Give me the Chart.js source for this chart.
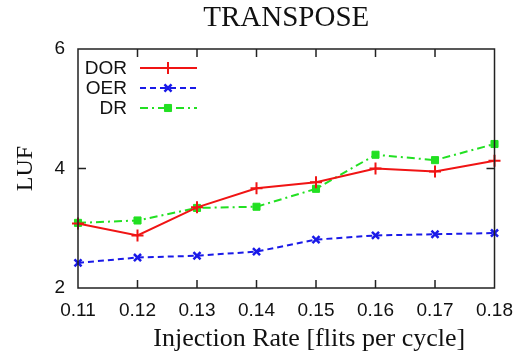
<!DOCTYPE html>
<html>
<head>
<meta charset="utf-8">
<script src="https://cdn.jsdelivr.net/npm/chart.js@4.4.0/dist/chart.umd.min.js"></script>
<style>
  html, body { margin: 0; padding: 0; background: #fff; }
</style>
</head>
<body>
<canvas id="chart" width="524" height="355"></canvas>
<script>
"use strict";

const rates = ['0.11', '0.12', '0.13', '0.14', '0.15', '0.16', '0.17', '0.18'];
const dorValues = [3.08, 2.88, 3.35, 3.67, 3.77, 4.00, 3.95, 4.13];
const oerValues = [2.42, 2.51, 2.54, 2.61, 2.81, 2.88, 2.90, 2.92];
const drValues = [3.09, 3.13, 3.34, 3.36, 3.66, 4.23, 4.14, 4.41];
const yTicks = [2, 4, 6];

const sans = "'Liberation Sans', Arial, sans-serif";
const serif = "'Liberation Serif', 'Times New Roman', serif";

// gnuplot style frame, inward ticks, key and x label
const framePlugin = {
    id: 'frame',
    afterDatasetsDraw(chart) {
        const {ctx, chartArea: a, scales} = chart;
        ctx.save();
        ctx.strokeStyle = '#222';
        ctx.lineWidth = 1.5;
        ctx.strokeRect(a.left, a.top, a.right - a.left, a.bottom - a.top);
        const len = 8;
        ctx.beginPath();
        for (let i = 1; i < rates.length - 1; i++) {
            const x = scales.x.getPixelForValue(i);
            ctx.moveTo(x, a.bottom); ctx.lineTo(x, a.bottom - len);
            ctx.moveTo(x, a.top); ctx.lineTo(x, a.top + len);
        }
        for (let i = 1; i < yTicks.length - 1; i++) {
            const y = scales.y.getPixelForValue(yTicks[i]);
            ctx.moveTo(a.left, y); ctx.lineTo(a.left + len, y);
            ctx.moveTo(a.right, y); ctx.lineTo(a.right - len, y);
        }
        ctx.stroke();

        // key
        ctx.font = '19px ' + sans;
        ctx.textAlign = 'right';
        ctx.textBaseline = 'middle';
        chart.data.datasets.forEach((ds, i) => {
            const y = a.top + 19 + i * 20;
            ctx.fillStyle = '#111';
            ctx.fillText(ds.label, a.left + 49, y + 1);
            ctx.strokeStyle = ds.borderColor;
            ctx.lineWidth = ds.borderWidth;
            ctx.setLineDash(ds.borderDash || []);
            ctx.beginPath();
            ctx.moveTo(a.left + 62, y);
            ctx.lineTo(a.left + 119, y);
            ctx.stroke();
            ctx.setLineDash([]);
            ctx.fillStyle = ds.borderColor;
            ctx.lineWidth = ds.pointBorderWidth;
            Chart.helpers.drawPoint(ctx, {
                pointStyle: ds.pointStyle,
                radius: ds.pointRadius,
                borderWidth: ds.pointBorderWidth,
                rotation: 0
            }, a.left + 90, y);
        });

        // x axis label
        ctx.font = '26px ' + serif;
        ctx.textAlign = 'center';
        ctx.fillStyle = '#111';
        ctx.fillText('Injection Rate [flits per cycle]', (a.left + a.right) / 2 + 23, 339);
        ctx.restore();
    }
};

const chart = new Chart(document.getElementById('chart'), {
    type: 'line',
    data: {
        labels: rates,
        datasets: [
            {
                label: 'DOR',
                data: dorValues,
                borderColor: '#f01414',
                backgroundColor: '#f01414',
                borderWidth: 2,
                pointStyle: 'cross',
                pointRadius: 6,
                pointBorderWidth: 2,
                clip: false
            },
            {
                label: 'OER',
                data: oerValues,
                borderColor: '#1a1ae8',
                backgroundColor: '#1a1ae8',
                borderWidth: 2,
                borderDash: [6, 4],
                pointStyle: 'crossRot',
                pointRadius: 5,
                pointBorderWidth: 2.5,
                clip: false
            },
            {
                label: 'DR',
                data: drValues,
                borderColor: '#22e022',
                backgroundColor: '#22e022',
                borderWidth: 2,
                borderDash: [8, 4, 2, 4],
                pointStyle: 'rect',
                pointRadius: 5,
                pointBorderWidth: 1,
                clip: false
            }
        ]
    },
    options: {
        responsive: false,
        animation: false,
        devicePixelRatio: 1,
        layout: {padding: {left: 0, right: 27, top: 0, bottom: 0}},
        plugins: {
            legend: {display: false},
            tooltip: {enabled: false},
            title: {
                display: true,
                text: 'TRANSPOSE',
                fullSize: false,
                color: '#111',
                font: {family: serif, size: 29, weight: 'normal'},
                padding: {top: 1, bottom: 13.2}
            }
        },
        scales: {
            x: {
                offset: false,
                grid: {display: false, drawTicks: false},
                border: {display: false},
                ticks: {
                    color: '#111',
                    font: {family: sans, size: 19},
                    padding: 11,
                    maxRotation: 0,
                    autoSkip: false
                },
                afterFit(scale) { scale.height = 67; }
            },
            y: {
                min: 2,
                max: 6,
                grid: {display: false, drawTicks: false},
                border: {display: false},
                ticks: {
                    stepSize: 2,
                    color: '#111',
                    font: {family: sans, size: 19},
                    padding: 13
                },
                title: {
                    display: true,
                    text: 'LUF',
                    color: '#111',
                    font: {family: serif, size: 24, weight: 'normal'},
                    padding: {top: 11, bottom: 0}
                },
                afterFit(scale) { scale.width = 78; }
            }
        }
    },
    plugins: [framePlugin]
});
</script>
</body>
</html>
